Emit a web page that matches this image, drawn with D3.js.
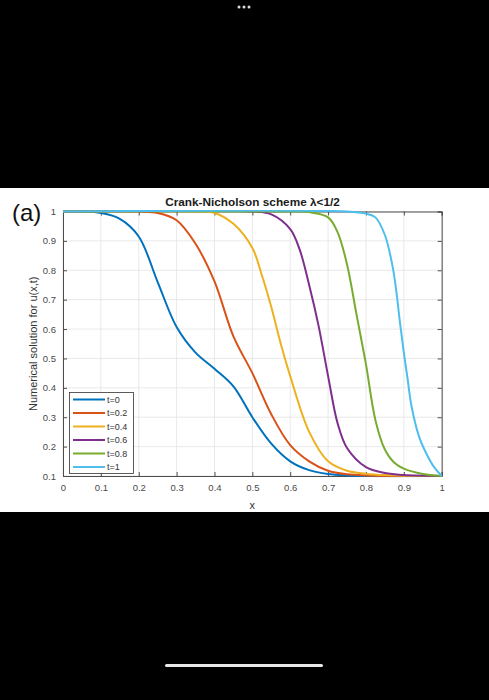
<!DOCTYPE html>
<html><head><meta charset="utf-8">
<script src="https://cdn.jsdelivr.net/npm/d3@7"></script>
<style>body{margin:0;background:#000;}svg{display:block;}</style>
</head><body>
<script>
const xTicks = [0,0.1,0.2,0.3,0.4,0.5,0.6,0.7,0.8,0.9,1];
const yTicks = [0.1,0.2,0.3,0.4,0.5,0.6,0.7,0.8,0.9,1];
const seriesNames = ["t=0","t=0.2","t=0.4","t=0.6","t=0.8","t=1"];
const colors = ["#0072BD","#D95319","#EDB120","#7E2F8E","#77AC30","#4DBEEE"];
const s0x = [0,0.05,0.1,0.15,0.2,0.25,0.3,0.35,0.4,0.45,0.5,0.55,0.6,0.65,0.7,0.75,0.8,1];
const s0y = [1,1,0.995,0.975,0.915,0.76,0.607,0.52,0.465,0.405,0.30,0.21,0.15,0.12,0.107,0.102,0.1,0.1];
const s1x = [0,0.2,0.25,0.3,0.35,0.4,0.45,0.5,0.55,0.6,0.65,0.7,0.75,0.8,0.9,1];
const s1y = [1,1,0.995,0.97,0.89,0.762,0.575,0.45,0.31,0.205,0.15,0.118,0.106,0.102,0.1,0.1];
const s2x = [0,0.35,0.4,0.45,0.5,0.525,0.55,0.575,0.6,0.65,0.7,0.75,0.8,0.85,0.9,1];
const s2y = [1,1,0.995,0.958,0.876,0.784,0.675,0.55,0.44,0.25,0.15,0.118,0.108,0.103,0.101,0.1];
const s3x = [0,0.5,0.55,0.6,0.625,0.65,0.675,0.7,0.725,0.75,0.8,0.85,0.9,1];
const s3y = [1,1,0.99,0.94,0.87,0.75,0.61,0.44,0.28,0.195,0.13,0.11,0.103,0.1];
const s4x = [0,0.6,0.65,0.7,0.725,0.75,0.775,0.8,0.825,0.85,0.875,0.9,0.95,1];
const s4y = [1,1,0.998,0.98,0.93,0.82,0.65,0.48,0.29,0.19,0.145,0.125,0.107,0.1];
const s5x = [0,0.75,0.8,0.825,0.85,0.87,0.88,0.89,0.9,0.91,0.92,0.94,0.96,0.98,1];
const s5y = [1,1,0.993,0.98,0.92,0.815,0.73,0.62,0.52,0.43,0.34,0.235,0.175,0.13,0.1];
const seriesX = [s0x,s1x,s2x,s3x,s4x,s5x];
const seriesY = [s0y,s1y,s2y,s3y,s4y,s5y];

const W = 489, H = 700;
const svg = d3.select("body").append("svg").attr("width",W).attr("height",H);
svg.append("rect").attr("width",W).attr("height",H).attr("fill","#000");
svg.append("rect").attr("x",0).attr("y",188).attr("width",W).attr("height",324).attr("fill","#fff");
[239,244,249].forEach(cx=>svg.append("circle").attr("cx",cx).attr("cy",7).attr("r",1.5).attr("fill","#ddd"));
svg.append("rect").attr("x",165).attr("y",664).attr("width",158).attr("height",3).attr("rx",1.5).attr("fill","#e8e8e8");

const L=63, R=441.7, T=211.5, B=476;
const x = d3.scaleLinear().domain([0,1]).range([L,R]);
const y = d3.scaleLinear().domain([0.1,1]).range([B,T]);
svg.append("defs").append("clipPath").attr("id","clip").append("rect")
 .attr("x",L-2).attr("y",T-1.5).attr("width",R-L+4).attr("height",B-T+3);
const g = svg.append("g");
g.selectAll(".gx").data(xTicks).enter().append("line")
 .attr("x1",d=>x(d)).attr("x2",d=>x(d)).attr("y1",T).attr("y2",B).attr("stroke","#e3e3e3").attr("stroke-width",0.8);
g.selectAll(".gy").data(yTicks).enter().append("line")
 .attr("y1",d=>y(d)).attr("y2",d=>y(d)).attr("x1",L).attr("x2",R).attr("stroke","#e3e3e3").attr("stroke-width",0.8);

const ff = "Liberation Sans, Arial, sans-serif";
const ax = d3.axisBottom(x).tickValues(xTicks).tickSize(-4).tickPadding(8).tickFormat(d3.format("~g"));
const ay = d3.axisLeft(y).tickValues(yTicks).tickSize(-4).tickPadding(7).tickFormat(d3.format("~g"));
const axT = d3.axisTop(x).tickValues(xTicks).tickSize(-4).tickFormat("");
const ayR = d3.axisRight(y).tickValues(yTicks).tickSize(-4).tickFormat("");
function style(sel){
  sel.selectAll("path").attr("stroke","#4d4d4d").attr("stroke-width",1);
  sel.selectAll("line").attr("stroke","#4d4d4d");
  sel.selectAll("text").attr("fill","#4a4a4a").attr("font-family",ff).attr("font-size","9.5px");
}
g.append("g").attr("transform",`translate(0,${B})`).call(ax).call(style);
g.append("g").attr("transform",`translate(${L},0)`).call(ay).call(style);
g.append("g").attr("transform",`translate(0,${T})`).call(axT).call(style);
g.append("g").attr("transform",`translate(${R},0)`).call(ayR).call(style);

const line = d3.line().x(d=>x(d[0])).y(d=>y(d[1])).curve(d3.curveCatmullRom.alpha(0.5));
const lines = g.append("g").attr("clip-path","url(#clip)");
seriesX.forEach((xs,i)=>{
  const pts = xs.map((v,j)=>[v,seriesY[i][j]]);
  lines.append("path").datum(pts).attr("d",line).attr("fill","none")
   .attr("stroke",colors[i]).attr("stroke-width",2);
});

svg.append("text").attr("x",252.5).attr("y",206).attr("text-anchor","middle")
 .attr("font-family",ff).attr("font-size","11.8px").attr("font-weight","bold").attr("fill","#1a1a1a")
 .text("Crank-Nicholson scheme λ<1/2");
svg.append("text").attr("x",12).attr("y",221).attr("font-family",ff).attr("font-size","24px").attr("fill","#111").text("(a)");
svg.append("text").attr("transform",`translate(37,${(T+B)/2}) rotate(-90)`).attr("text-anchor","middle")
 .attr("font-family",ff).attr("font-size","11px").attr("fill","#333").text("Numerical solution for u(x,t)");
svg.append("text").attr("x",x(0.5)).attr("y",509).attr("text-anchor","middle")
 .attr("font-family",ff).attr("font-size","11px").attr("fill","#333").text("x");

const lg = svg.append("g");
lg.append("rect").attr("x",69.5).attr("y",392.5).attr("width",64).attr("height",81)
 .attr("fill","#fff").attr("stroke","#333").attr("stroke-width",0.8);
seriesNames.forEach((n,i)=>{
  const yy = 399.5 + i*13.5;
  lg.append("line").attr("x1",73).attr("x2",105).attr("y1",yy).attr("y2",yy).attr("stroke",colors[i]).attr("stroke-width",2);
  lg.append("text").attr("x",107).attr("y",yy+3.2).attr("font-family",ff).attr("font-size","9px").attr("fill","#333").text(n);
});
</script>
</body></html>
